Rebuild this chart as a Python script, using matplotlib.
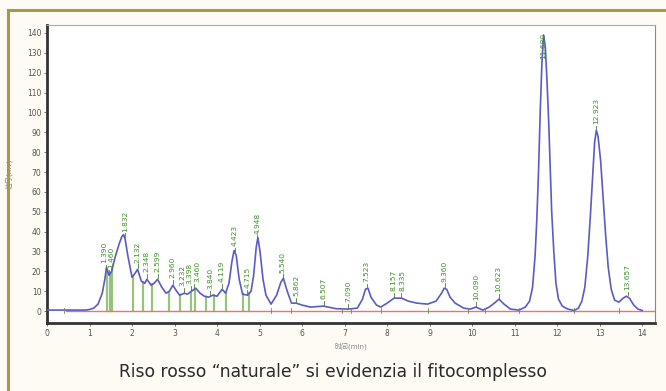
import matplotlib
matplotlib.use("Agg")
import matplotlib.pyplot as plt
import numpy as np
from matplotlib.lines import Line2D

plt.rcParams["font.family"] = ["DejaVu Sans", "Noto Sans CJK SC"]

# chromatogram trace (time in min, signal in mV)
trace_t = [0.0, 0.5, 0.9, 1.0, 1.1, 1.2, 1.3, 1.36, 1.40, 1.46, 1.52, 1.6, 1.7, 1.76,
           1.80, 1.84, 1.9, 2.0, 2.07, 2.13, 2.22, 2.3, 2.35, 2.45, 2.52, 2.6, 2.7,
           2.8, 2.88, 2.96, 3.05, 3.12, 3.23, 3.3, 3.4, 3.5, 3.6, 3.7, 3.8, 3.9,
           4.0, 4.12, 4.2, 4.28, 4.35, 4.40, 4.45, 4.52, 4.6, 4.72, 4.8, 4.86,
           4.92, 4.96, 5.01, 5.08, 5.15, 5.27, 5.4, 5.5, 5.56, 5.65, 5.75, 5.86,
           6.0, 6.2, 6.5, 6.8, 7.09, 7.3, 7.42, 7.49, 7.55, 7.62, 7.75, 7.85, 8.0,
           8.16, 8.34, 8.5, 8.7, 8.95, 9.15, 9.28, 9.34, 9.40, 9.48, 9.6, 9.8,
           9.95, 10.09, 10.25, 10.4, 10.55, 10.63, 10.75, 10.9, 11.1, 11.25, 11.35,
           11.42, 11.48, 11.52, 11.56, 11.6, 11.64, 11.68, 11.72, 11.76, 11.8,
           11.84, 11.87, 11.92, 11.97, 12.03, 12.12, 12.25, 12.4, 12.5, 12.58,
           12.65, 12.72, 12.78, 12.84, 12.88, 12.92, 12.96, 13.02, 13.08, 13.14,
           13.2, 13.27, 13.35, 13.45, 13.55, 13.63, 13.7, 13.8, 13.9, 14.0]
trace_v = [0.5, 0.5, 0.5, 0.8, 1.5, 3.5, 9, 16, 22, 18, 20, 27, 34, 37.5,
           38.5, 36, 28, 17, 19, 21, 15, 14, 16, 13, 14, 16, 12,
           9, 10, 13, 10, 8, 9, 8.5, 10, 11.5, 9, 7.5, 7, 8,
           7.5, 11, 9, 14, 25, 30.5, 28, 16, 8.5, 8, 10, 18,
           32, 37, 30, 16, 8, 3.5, 8, 14.5, 16.5, 10, 4, 4,
           3, 2, 2.5, 1.2, 1, 1.5, 6, 11, 11.5, 7, 3, 2, 4,
           6.5, 6.5, 5, 4, 3.5, 5, 9, 11.5, 11, 7, 4, 1.5,
           1, 2, 0.5, 2, 4.5, 6, 3.5, 1, 0.5, 2, 5,
           12, 28, 46, 70, 100, 125, 139, 133, 116, 95,
           70, 50, 30, 14, 6, 2.5, 1, 0.3, 1.5, 5,
           12, 28, 48, 70, 85, 91, 88, 76, 57, 38,
           22, 11, 5.5, 4.5, 6.5, 7.5, 6.5, 3, 1, 0.3]

peak_times = [1.390, 1.460, 1.832, 2.132, 2.348, 2.599, 2.960, 3.232, 3.398, 3.460,
              3.840, 4.119, 4.423, 4.715, 4.948, 5.540, 5.862, 6.507, 7.090, 7.523,
              8.157, 8.335, 9.360, 10.090, 10.623, 11.680, 12.923, 13.657]
peak_labels = ["1.390", "1.460", "1.832", "2.132", "2.348", "2.599", "2.960", "3.232",
               "3.398", "3.460", "3.840", "4.119", "4.423", "4.715", "4.948", "5.540",
               "5.862", "6.507", "7.090", "7.523", "8.157", "8.335", "9.360", "10.090",
               "10.623", "11.680", "12.923", "13.657"]
# where crowded labels sit along the time axis
label_pos = {"1.390": 1.34, "1.460": 1.51, "3.232": 3.19, "3.398": 3.36,
             "3.460": 3.53, "8.157": 8.14, "8.335": 8.36}

# green drop lines in the crowded early part
drop_times = [1.42, 1.49, 1.54, 2.03, 2.25, 2.48, 2.86, 3.12, 3.38, 3.47, 3.75, 3.92,
              4.2, 4.6, 4.76]
# small boundary marks on the baseline
mark_times = [0.4, 5.27, 5.75, 6.95, 7.15, 7.85, 8.95, 9.9, 10.3, 11.1, 12.4, 13.45]

x_ticks = list(range(0, 15))
y_ticks = list(range(0, 150, 10))

W, H = 666, 391
fig = plt.figure(figsize=(W / 100, H / 100), dpi=100)
fig.patch.set_facecolor("#fdfbf4")

# golden frame
fig.add_artist(Line2D([8 / W, 1], [1 - 10 / H, 1 - 10 / H], color="#a8994a", lw=2.2))
fig.add_artist(Line2D([8 / W, 8 / W], [0, 1 - 10 / H], color="#a8994a", lw=2.2))

ax = fig.add_axes([47 / W, 1 - 323 / H, (655 - 47) / W, (323 - 25) / H])
ax.set_facecolor("white")

ax.plot(trace_t, trace_v, color="#5b5bc4", lw=1.2, zorder=4)
ax.plot([0.45, 14.3], [0, 0], color="#f2745e", lw=1.0, zorder=3)

for t in drop_times:
    h = np.interp(t, trace_t, trace_v)
    ax.plot([t, t], [0, h], color="#86b868", lw=1.6, alpha=0.85, zorder=2)

for t in mark_times:
    ax.plot([t, t], [-0.8, 1.8], color="#6a8a5a", lw=0.6, zorder=5)

for t, lab in zip(peak_times, peak_labels):
    h = np.interp(t, trace_t, trace_v)
    if lab == "11.680":
        ax.text(t, 127, lab, rotation=90, ha="center", va="bottom",
                fontsize=5.4, color="#3f8f2a", zorder=6)
        continue
    ax.plot([t, t], [h + 0.8, h + 2.6], color="#4a7a3a", lw=0.6, zorder=5)
    ax.text(label_pos.get(lab, t), h + 3.5, lab, rotation=90, ha="center",
            va="bottom", fontsize=5.4, color="#3f8f2a", zorder=6)

ax.set_xlim(0, 14.3)
ax.set_ylim(-6, 144)
ax.set_xticks(x_ticks)
ax.set_yticks(y_ticks)
ax.tick_params(labelsize=5.5, labelcolor="#555555", length=2, width=0.6,
               color="#666666", pad=2)

ax.spines["left"].set_linewidth(2)
ax.spines["bottom"].set_linewidth(2)
ax.spines["left"].set_color("#333333")
ax.spines["bottom"].set_color("#333333")
ax.spines["top"].set_color("#aaaaaa")
ax.spines["right"].set_color("#888888")
ax.spines["top"].set_linewidth(0.8)
ax.spines["right"].set_linewidth(0.8)

ax.set_xlabel("时间(min)", fontsize=5, color="#888888", labelpad=3)
ax.set_ylabel("信号(mv)", fontsize=5, color="#888888", labelpad=10)

fig.text(0.5, 1 - 372 / H, "Riso rosso “naturale” si evidenzia il fitocomplesso",
         ha="center", va="center", fontsize=12.3, color="#2a2a2a")

fig.savefig("out.png", dpi=100, facecolor=fig.get_facecolor())
